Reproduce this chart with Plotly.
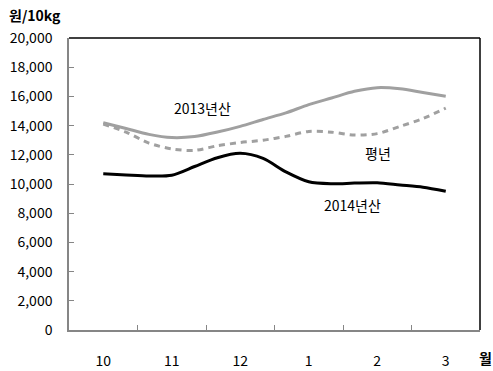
import plotly.graph_objects as go

# Month categories (Oct -> Mar) and 10-day period positions between them
months = ["10", "11", "12", "1", "2", "3"]
periods = [i / 3 for i in range(16)]

# Rice price, KRW per 10 kg
crop_2013 = [14200, 13800, 13400, 13180, 13250, 13560, 13950, 14420, 14870,
             15440, 15890, 16350, 16600, 16520, 16260, 16010]
normal_year = [14100, 13550, 12800, 12400, 12300, 12620, 12840, 13000, 13260,
               13600, 13550, 13350, 13450, 13950, 14480, 15200]
crop_2014 = [10700, 10620, 10550, 10600, 11200, 11800, 12100, 11750, 10830,
             10150, 10020, 10060, 10080, 9930, 9780, 9500]

yticks = list(range(0, 20001, 2000))

FONT = "Noto Sans CJK KR, Malgun Gothic, sans-serif"
GRAY = "#a0a0a0"
SIZE = 14

fig = go.Figure()
fig.add_trace(go.Scatter(x=periods, y=crop_2013, mode="lines", name="2013년산",
                         line=dict(color=GRAY, width=3, shape="spline", smoothing=0.8)))
fig.add_trace(go.Scatter(x=periods, y=normal_year, mode="lines", name="평년",
                         line=dict(color=GRAY, width=3, dash="6px,5px",
                                   shape="spline", smoothing=0.8)))
fig.add_trace(go.Scatter(x=periods, y=crop_2014, mode="lines", name="2014년산",
                         line=dict(color="black", width=3, shape="spline", smoothing=0.8)))

fig.update_layout(
    width=493, height=371,
    margin=dict(l=69, r=13, t=38, b=41),
    paper_bgcolor="white", plot_bgcolor="white",
    showlegend=False,
    font=dict(family=FONT, size=SIZE, color="black"),
    xaxis=dict(
        range=[-0.5, 5.5], tickvals=list(range(len(months))), ticktext=months,
        ticks="", showgrid=False, zeroline=False, automargin=False,
        showline=True, linecolor="#868686", linewidth=1.5,
        tickfont=dict(size=SIZE), ticklabelstandoff=17,
        minor=dict(tickvals=[i + 0.5 for i in range(len(months) - 1)],
                   ticks="inside", ticklen=5, tickcolor="#868686", tickwidth=1,
                   showgrid=False),
    ),
    yaxis=dict(
        range=[0, 20000], tickvals=yticks, tickformat=",",
        ticks="inside", ticklen=5, tickcolor="#868686",
        showgrid=False, zeroline=False, automargin=False,
        showline=True, linecolor="#868686", linewidth=1.5,
        tickfont=dict(size=SIZE), ticklabelstandoff=12,
    ),
    shapes=[
        dict(type="line", xref="paper", yref="paper", x0=0, x1=1, y0=1, y1=1,
             line=dict(color="black", width=1.5)),
        dict(type="line", xref="paper", yref="paper", x0=1, x1=1, y0=0, y1=1,
             line=dict(color="black", width=1.5)),
    ],
    annotations=[
        dict(text="2013년산", x=1.45, y=15190, showarrow=False),
        dict(text="평년", x=4.01, y=12100, showarrow=False),
        dict(text="2014년산", x=3.64, y=8540, showarrow=False),
        dict(text="<b>원/10kg</b>", xref="paper", yref="paper", x=0, y=1.0,
             xshift=-62, yshift=23, xanchor="left", yanchor="middle",
             showarrow=False),
        dict(text="<b>월</b>", xref="paper", yref="paper", x=1.0, y=0,
             xshift=-3, yshift=-28, xanchor="left", yanchor="middle",
             showarrow=False),
    ],
)

fig.write_html("out.html")
